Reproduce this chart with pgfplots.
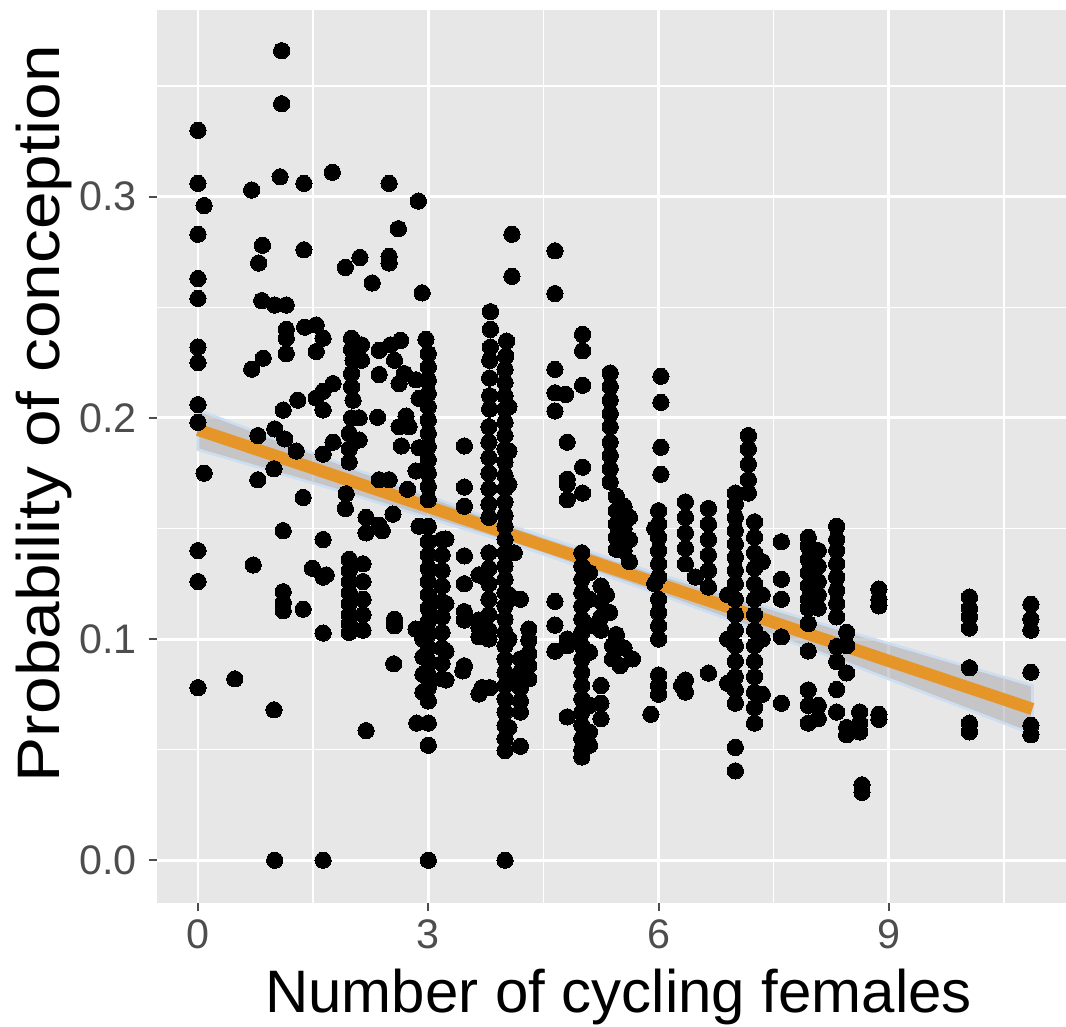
\documentclass[border=0pt]{standalone}
\usepackage{pgfplots}
\pgfplotsset{compat=1.18}
\usepackage{fontspec}
\setmainfont{Liberation Sans}
\definecolor{panelgray}{RGB}{231,231,231}
\definecolor{tickgray}{RGB}{77,77,77}
\definecolor{lineorange}{RGB}{230,150,40}
\definecolor{bandgray}{RGB}{170,170,175}
\definecolor{bandblue}{RGB}{205,222,240}

\pgfplotstableread{
x y
0 0.330
0 0.306
0.08 0.296
0 0.283
0 0.263
0 0.254
0 0.232
0 0.225
0 0.206
0 0.198
0.08 0.175
0 0.140
0 0.126
0 0.078
0.48 0.082
0.70 0.303
0.70 0.222
0.72 0.1335
0.84 0.278
0.79 0.270
0.83 0.253
0.85 0.227
0.78 0.192
0.78 0.172
1.0 0.251
1.0 0.195
0.99 0.177
0.99 0.068
1.0 0.0
1.09 0.366
1.09 0.342
1.07 0.309
1.15 0.251
1.15 0.240
1.15 0.236
1.15 0.229
1.11 0.2035
1.13 0.1905
1.11 0.149
1.11 0.1214
1.11 0.1165
1.11 0.1128
1.30 0.208
1.28 0.185
1.38 0.306
1.38 0.276
1.39 0.241
1.37 0.164
1.37 0.1135
1.49 0.132
1.54 0.242
1.54 0.230
1.54 0.209
1.63 0.236
1.63 0.212
1.63 0.2036
1.63 0.1836
1.63 0.145
1.63 0.128
1.63 0.1027
1.63 0.0
1.67 0.129
1.75 0.311
1.76 0.2155
1.76 0.189
1.92 0.268
1.92 0.159
2.0 0.236
2.0 0.231
2.02 0.226
2.0 0.220
2.0 0.214
2.02 0.208
2.0 0.200
1.97 0.193
1.97 0.186
1.97 0.180
2.13 0.233
2.13 0.226
2.1 0.200
2.1 0.190
2.11 0.2725
1.93 0.1657
1.97 0.136
1.97 0.131
1.97 0.126
1.97 0.121
1.97 0.116
1.97 0.111
1.97 0.107
1.97 0.103
2.15 0.134
2.15 0.126
2.15 0.118
2.15 0.111
2.15 0.104
2.19 0.155
2.19 0.148
2.19 0.0586
2.27 0.261
2.36 0.2305
2.36 0.2196
2.34 0.2003
2.36 0.172
2.36 0.1515
2.40 0.149
2.49 0.306
2.49 0.273
2.49 0.270
2.51 0.233
2.49 0.172
2.54 0.1565
2.56 0.226
2.69 0.220
2.61 0.2855
2.64 0.235
2.62 0.2155
2.62 0.196
2.71 0.2008
2.65 0.1873
2.75 0.196
2.73 0.1677
2.84 0.176
2.84 0.2172
2.88 0.2088
2.88 0.1865
2.88 0.151
2.56 0.106
2.56 0.109
2.55 0.0888
2.84 0.1045
2.93 0.100
2.93 0.092
2.93 0.084
2.93 0.076
2.87 0.298
2.85 0.062
2.92 0.2565
2.97 0.2355
3.0 0.229
3.0 0.223
3.0 0.217
3.0 0.211
3.0 0.205
3.0 0.199
3.0 0.193
3.0 0.187
3.0 0.181
3.0 0.175
3.0 0.169
3.0 0.163
3.0 0.151
3.0 0.144
3.0 0.138
3.0 0.132
3.0 0.126
3.0 0.120
3.0 0.114
3.0 0.108
3.0 0.102
3.0 0.096
3.0 0.090
3.0 0.084
3.0 0.078
3.0 0.072
3.0 0.062
3.0 0.052
3.0 0.0
3.18 0.145
3.18 0.138
3.18 0.131
3.18 0.124
3.18 0.117
3.18 0.110
3.18 0.103
3.18 0.096
3.18 0.089
3.18 0.082
3.23 0.1452
3.23 0.116
3.23 0.0945
3.23 0.0815
3.47 0.1873
3.47 0.1687
3.47 0.160
3.47 0.1376
3.47 0.125
3.47 0.1124
3.47 0.1086
3.47 0.0879
3.45 0.0856
3.66 0.129
3.66 0.1086
3.66 0.105
3.66 0.101
3.66 0.0752
3.70 0.078
3.81 0.248
3.81 0.240
3.81 0.232
3.80 0.226
3.80 0.218
3.80 0.210
3.80 0.204
3.79 0.196
3.79 0.189
3.79 0.182
3.79 0.175
3.79 0.168
3.79 0.161
3.79 0.155
3.79 0.139
3.79 0.132
3.79 0.125
3.79 0.118
3.79 0.111
3.79 0.104
3.79 0.100
3.80 0.078
4.02 0.2347
4.01 0.228
4.0 0.222
4.0 0.216
4.0 0.210
4.0 0.204
4.0 0.198
4.0 0.192
4.0 0.186
4.0 0.180
4.0 0.174
4.0 0.168
4.0 0.162
4.0 0.156
4.0 0.151
4.0 0.145
4.0 0.139
4.0 0.133
4.0 0.127
4.0 0.121
4.0 0.115
4.0 0.109
4.0 0.103
4.0 0.097
4.0 0.091
4.0 0.085
4.0 0.079
4.0 0.073
4.0 0.067
4.0 0.061
4.0 0.055
4.0 0.0496
4.0 0.0
4.09 0.283
4.09 0.264
4.12 0.139
4.05 0.205
4.05 0.185
4.05 0.170
4.05 0.120
4.05 0.100
4.05 0.080
4.05 0.060
4.20 0.118
4.20 0.091
4.20 0.085
4.20 0.078
4.20 0.072
4.20 0.067
4.20 0.0515
4.31 0.1045
4.31 0.0995
4.31 0.0935
4.31 0.088
4.31 0.082
4.65 0.2755
4.65 0.2562
4.65 0.2219
4.65 0.2113
4.65 0.2031
4.65 0.117
4.65 0.1063
4.65 0.0945
4.79 0.2106
4.81 0.189
4.81 0.1723
4.81 0.170
4.81 0.163
4.81 0.100
4.81 0.097
4.81 0.0648
5.01 0.2377
5.01 0.2303
5.01 0.2147
5.01 0.1777
5.01 0.166
5.0 0.139
5.0 0.133
5.0 0.127
5.0 0.121
5.0 0.115
5.0 0.109
5.0 0.103
5.0 0.097
5.0 0.091
5.0 0.085
5.0 0.079
5.0 0.073
5.0 0.067
5.0 0.061
5.0 0.055
5.0 0.050
5.0 0.0467
5.10 0.130
5.10 0.118
5.10 0.106
5.10 0.094
5.10 0.070
5.10 0.058
5.10 0.052
5.25 0.124
5.25 0.117
5.25 0.110
5.25 0.104
5.25 0.079
5.25 0.071
5.25 0.064
5.37 0.2203
5.37 0.2141
5.37 0.208
5.37 0.202
5.37 0.196
5.37 0.189
5.37 0.183
5.37 0.177
5.37 0.171
5.45 0.1646
5.45 0.158
5.45 0.152
5.45 0.146
5.45 0.1406
5.55 0.160
5.55 0.150
5.55 0.140
5.62 0.155
5.62 0.145
5.62 0.135
5.32 0.120
5.36 0.112
5.45 0.102
5.55 0.096
5.40 0.097
5.40 0.091
5.50 0.088
5.66 0.091
6.03 0.2188
6.03 0.207
6.03 0.1867
6.03 0.1745
6.0 0.158
6.0 0.152
6.0 0.146
6.0 0.140
6.0 0.134
6.0 0.128
6.0 0.118
6.0 0.112
6.0 0.106
6.0 0.100
5.95 0.150
5.95 0.125
6.0 0.0838
6.0 0.079
6.0 0.075
5.90 0.066
6.35 0.162
6.35 0.155
6.35 0.148
6.35 0.141
6.35 0.134
6.35 0.0815
6.35 0.076
6.30 0.079
6.48 0.128
6.65 0.159
6.65 0.152
6.65 0.145
6.65 0.138
6.65 0.131
6.65 0.1235
6.65 0.0846
7.0 0.166
7.0 0.161
7.0 0.155
7.0 0.149
7.0 0.143
7.0 0.137
7.0 0.131
7.0 0.125
7.0 0.118
7.0 0.111
7.0 0.104
7.0 0.097
7.0 0.090
7.0 0.083
7.0 0.077
7.0 0.071
7.0 0.051
7.0 0.0404
6.90 0.120
6.90 0.100
6.90 0.080
7.17 0.192
7.17 0.186
7.17 0.179
7.17 0.172
7.17 0.166
7.25 0.153
7.25 0.146
7.25 0.139
7.25 0.132
7.25 0.125
7.25 0.118
7.25 0.111
7.25 0.104
7.25 0.097
7.25 0.090
7.25 0.083
7.25 0.076
7.25 0.069
7.25 0.062
7.35 0.135
7.35 0.120
7.35 0.100
7.35 0.075
7.60 0.144
7.60 0.127
7.60 0.118
7.60 0.101
7.60 0.071
7.95 0.146
7.95 0.142
7.95 0.136
7.95 0.130
7.95 0.124
7.95 0.118
7.95 0.114
7.95 0.107
7.95 0.0946
7.95 0.077
7.95 0.070
7.95 0.062
8.08 0.140
8.08 0.133
8.08 0.126
8.08 0.120
8.08 0.114
8.08 0.070
8.08 0.064
8.32 0.151
8.32 0.145
8.32 0.140
8.32 0.134
8.32 0.128
8.32 0.122
8.32 0.116
8.32 0.110
8.32 0.0966
8.32 0.0898
8.32 0.0772
8.32 0.067
8.45 0.103
8.45 0.097
8.45 0.0847
8.45 0.0567
8.45 0.060
8.62 0.067
8.62 0.062
8.62 0.058
8.65 0.0341
8.65 0.0307
8.87 0.1226
8.87 0.118
8.87 0.115
8.87 0.066
8.87 0.0637
10.05 0.119
10.05 0.114
10.05 0.110
10.05 0.105
10.05 0.087
10.05 0.062
10.05 0.058
10.85 0.1157
10.85 0.109
10.85 0.104
10.85 0.085
10.85 0.061
10.85 0.0567
}\pointsdata

% confidence band outline: upper bound left to right, then lower bound right to left
\pgfplotstableread{
x y
0 0.2036
2 0.1774
4 0.1522
4.5 0.1464
6 0.1294
8 0.1082
10.87 0.0790
10.87 0.0570
8 0.0952
6 0.1204
4.5 0.1384
4 0.1442
2 0.1654
0 0.1856
}\banddata

\begin{document}
\begin{tikzpicture}
\begin{axis}[
  scale only axis,
  width=346.3pt, height=335.1pt,
  xmin=-0.534, xmax=11.49,
  ymin=-0.0194, ymax=0.3844,
  axis background/.style={fill=panelgray},
  axis line style={draw=none},
  xtick={0,3,6,9}, xticklabels={0,3,6,9},
  ytick={0,0.1,0.2,0.3}, yticklabels={0.0,0.1,0.2,0.3},
  minor xtick={1.5,4.5,7.5,10.5},
  minor ytick={0.05,0.15,0.25,0.35},
  grid=both,
  major grid style={white, line width=1.1pt},
  minor grid style={white, line width=0.55pt},
  tick pos=lower,
  tick align=outside,
  major tick length=3pt,
  minor tick length=0pt,
  major tick style={tickgray, line width=0.75pt},
  ticklabel style={font=\fontsize{15.5}{15.5}\selectfont, text=tickgray},
  yticklabel style={inner sep=0pt, xshift=-4.5pt},
  xticklabel style={inner sep=0pt, yshift=-3pt},
  xlabel={Number of cycling females},
  ylabel={\scalebox{1.128}[1]{Probability of conception}},
  label style={font=\fontsize{22.5}{22.5}\selectfont, text=black},
  xlabel style={at={(axis description cs:0.5,-0.122)}, anchor=base},
  ylabel style={at={(axis description cs:-0.1051,0.548)}, anchor=base},
  clip=true,
]
\coordinate (pSW) at (rel axis cs:0,0);
\coordinate (pNE) at (rel axis cs:1,1);
\addplot[draw=bandblue, line width=1pt, fill=bandgray, fill opacity=0.55]
  table[x=x, y=y] {\banddata} -- cycle;
\addplot[lineorange, line width=4.6pt] coordinates {(0,0.1946) (10.87,0.0684)};
\addplot[only marks, mark=*, mark size=3.05pt, mark options={fill=black, draw=black, line width=0pt}]
  table[x=x, y=y] {\pointsdata};
\end{axis}
\pgfresetboundingbox
\path ([xshift=-58.9pt,yshift=-46.15pt]pSW) rectangle ([xshift=-5.25pt,yshift=3.75pt]pNE);
\end{tikzpicture}
\end{document}
